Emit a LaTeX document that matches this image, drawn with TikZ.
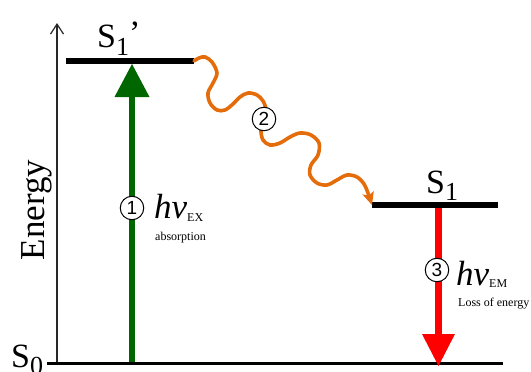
\documentclass[tikz,border=0pt]{standalone}
\usepackage{fontspec}
\setmainfont{Liberation Serif}
\setsansfont{Liberation Sans}
\usetikzlibrary{arrows.meta}
\definecolor{dgreen}{RGB}{0,102,0}
\definecolor{eorange}{RGB}{228,108,10}
\definecolor{ered}{RGB}{255,0,0}
\definecolor{axisgray}{RGB}{40,40,40}
\newcommand\myfs[1]{\fontsize{#1}{#1}\selectfont}
\begin{document}
\begin{tikzpicture}[x=1pt,y=-1pt,
  lbl/.style={anchor=base west,inner sep=0pt},
  levelbar/.style={line width=6pt,black},
  numcirc/.style={circle,draw=black,fill=white,line width=1pt,minimum size=23.5pt,inner sep=0pt,font=\sffamily\myfs{19}},
  axisline/.style={axisgray,line width=1.2pt,-{Straight Barb[length=10pt,width=13pt]}},
  wave/.style={eorange,line width=3.6pt,line cap=round,-{Stealth[length=13pt,width=12pt,inset=3pt,line width=0pt]}}]
\path[use as bounding box] (0,0) rectangle (531,372);

% coordinates
\coordinate (axbot) at (57,363);
\coordinate (axtop) at (57,23);
\coordinate (s0L) at (47,363.5);
\coordinate (s0R) at (503,363.5);
\coordinate (s1pL) at (66,61);
\coordinate (s1pR) at (194,61);
\coordinate (s1L) at (372,205);
\coordinate (s1R) at (498,205);
\coordinate (gbot) at (132,362);
\coordinate (gtop) at (132,64);
\coordinate (rtop) at (438.5,208);
\coordinate (rbot) at (438.5,366);

% axis and levels
\draw[axisline] (axbot) -- (axtop);
\draw[line width=2.5pt] (s0L) -- (s0R);
\draw[levelbar] (s1pL) -- (s1pR);
\draw[levelbar] (s1L) -- (s1R);

% wavy transition
\draw[wave] plot[smooth,tension=0.55] coordinates {
 (s1pR) (199,58) (205,57) (212,62) (217,73) (213,83) (208,93) (210,103) (217,110) (225,110)
 (233,104) (240,97) (248,93) (257,95) (263,101) (266,110) (264,120) (261,130) (263,140)
 (270,145) (280,143) (290,137) (300,133) (311,135) (319,143) (318,155) (311,165) (310,175)
 (317,183) (327,185) (337,180) (347,175) (357,177) (364,184) (368,193) (s1L)};

% arrows
\draw[dgreen,line width=6pt,-{Triangle[length=33pt,width=35pt,line width=0pt]}] (gbot) -- (gtop);
\draw[ered,line width=7pt,-{Triangle[length=32pt,width=33pt,line width=0pt]}] (rtop) -- (rbot);

% circled numbers
\node[numcirc] (c1) at (132,208) {1};
\node[numcirc] (c2) at (264,119) {2};
\node[numcirc] (c3) at (437,270) {3};

% labels
\node[rotate=90,anchor=base,inner sep=0pt] (energy) at (45,210) {\myfs{35}Energy};
\node[lbl] (lS0) at (11,367) {\myfs{34}S\raisebox{-7pt}{\myfs{26}0}};
\node[lbl] (lS1p) at (97,48) {\myfs{34}S\raisebox{-7pt}{\myfs{26}1}\raisebox{3pt}{’}};
\node[lbl] (lS1) at (426,193) {\myfs{34}S\raisebox{-7pt}{\myfs{26}1}};
\node[lbl] (hvex) at (154,218) {\myfs{35}\itshape hv\upshape\raisebox{-3pt}{\myfs{12}EX}};
\node[lbl] (absorp) at (155,240) {\myfs{12}absorption};
\node[lbl] (hvem) at (456,285) {\myfs{35}\itshape hv\upshape\raisebox{-2pt}{\myfs{12}EM}};
\node[lbl] (loss) at (458,306) {\myfs{12}Loss of energy};
\end{tikzpicture}
\end{document}
